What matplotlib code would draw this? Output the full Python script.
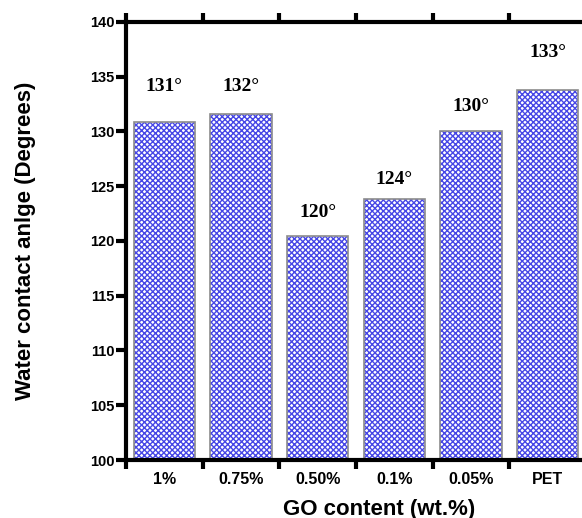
import matplotlib.pyplot as plt
import numpy as np

categories = ["1%", "0.75%", "0.50%", "0.1%", "0.05%", "PET"]
angles = [130.9, 131.6, 120.5, 123.8, 130.0, 133.8]
labels = ["131°", "132°", "120°", "124°", "130°", "133°"]
label_y = [134.1, 134.1, 122.6, 125.6, 132.3, 137.2]

plt.rcParams["font.family"] = ["Liberation Sans", "DejaVu Sans"]
plt.rcParams["hatch.linewidth"] = 1.0

fig = plt.figure(figsize=(5.82, 5.18), dpi=100)
ax = fig.add_axes([126 / 582, 58 / 518, 460 / 582, 438 / 518])

x = np.arange(len(categories)) + 0.5
# hatch drawn in blue, outline in grey on top
ax.bar(x, angles, width=0.8, bottom=0, color="white", edgecolor="#4646e6",
       hatch="xxxxxx", linewidth=0)
ax.bar(x, angles, width=0.8, bottom=0, color="none", edgecolor="#8c8c8c",
       linewidth=1.2)

for xi, lab, ly in zip(x, labels, label_y):
    ax.text(xi, ly, lab, ha="center", va="center", fontsize=14,
            fontweight="bold", family=["Liberation Serif", "DejaVu Serif"])

ax.set_xlim(0, 6)
ax.set_ylim(100, 140)
ax.set_yticks(range(100, 141, 5))
ax.set_xticks(range(0, 7))
ax.set_xticklabels([])
ax.set_xticks(x, minor=True)
ax.set_xticklabels(categories, minor=True, fontsize=11.5, fontweight="bold")
ax.tick_params(axis="x", which="minor", length=0, pad=9)
ax.tick_params(axis="x", which="major", length=6.5, width=3, direction="out",
               top=True)
ax.tick_params(axis="y", length=7, width=3, direction="out", labelsize=10.5, pad=1.5)
for t in ax.get_yticklabels():
    t.set_fontweight("bold")

for s in ax.spines.values():
    s.set_linewidth(3)

ax.set_xlabel("GO content (wt.%)", fontsize=16, fontweight="bold")
ax.xaxis.set_label_coords(0.55, -0.088)
ax.set_ylabel("Water contact anlge (Degrees)", fontsize=16, fontweight="bold")
ax.yaxis.set_label_coords(-0.195, 0.5)

fig.savefig("out.png", dpi=100)
